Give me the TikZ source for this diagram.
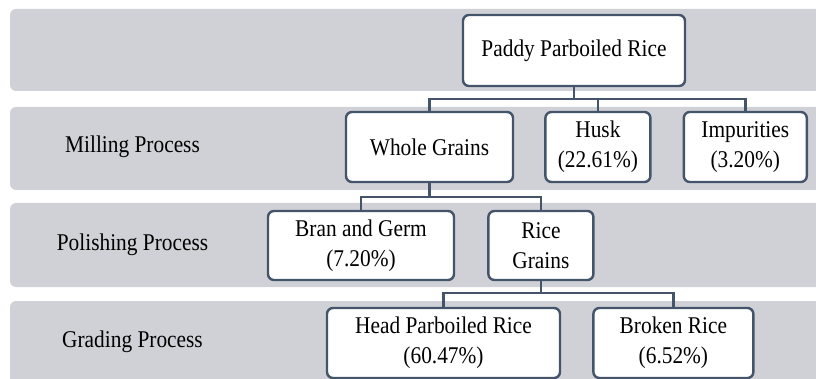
\documentclass[tikz,border=0pt]{standalone}
\usepackage{fontspec}
\setmainfont[FakeStretch=0.89]{Liberation Serif}
\usepackage{tikz}
\usetikzlibrary{positioning,calc}
\definecolor{bandgray}{RGB}{208,209,214}
\definecolor{slate}{RGB}{68,84,106}

\begin{document}
\begin{tikzpicture}[x=1pt,y=1pt,
    band/.style={fill=bandgray,draw=none,rounded corners=6pt},
    statt/.style={fill=white,draw=slate,line width=2.4pt,rectangle,rounded corners=6pt,inner sep=0pt,
                  align=center,font=\fontsize{24}{30}\selectfont,minimum height=70pt},
    stage/.style={font=\fontsize{24}{30}\selectfont},
    link/.style={draw=slate,line width=2.4pt}]
%
   \useasboundingbox (0,0) rectangle (816,-379);
   \clip (0,0) rectangle (816,-379);
   \fill[band] (816,-9) -| (10,-91) -- (816,-91);
   \fill[band] (816,-107) -| (10,-190) -- (816,-190);
   \fill[band] (816,-203) -| (10,-287) -- (816,-287);
   \fill[band] (816,-301) -| (10,-395) -- (816,-395);
   \node[stage]         (L1) at (132.5,-147) {Milling Process};
   \node[stage]         (L2) at (132.5,-245) {Polishing Process};
   \node[stage]         (L3) at (132.5,-342) {Grading Process};
   \node[statt,minimum width=222pt,minimum height=71pt] (N1) at (574,-50.5) {Paddy Parboiled Rice};
   \node[statt,minimum width=167pt] (N2) at (429.5,-147) {Whole Grains};
   \node[statt,minimum width=105pt] (N3) [right=30pt of N2] {Husk\\(22.61\%)};
   \node[statt,minimum width=123pt] (N4) [right=31pt of N3] {Impurities\\(3.20\%)};
   \node[statt,minimum width=186pt,minimum height=69pt] (N5) at (361,-245.5) {Bran and Germ\\(7.20\%)};
   \node[statt,minimum width=105pt,minimum height=69pt] (N6) [right=32pt of N5] {Rice\\Grains};
   \node[statt,minimum width=233pt] (N7) at (443.5,-343) {Head Parboiled Rice\\(60.47\%)};
   \node[statt,minimum width=160pt] (N8) [right=31pt of N7] {Broken Rice\\(6.52\%)};
   \coordinate (B1) at (0,-99);
   \coordinate (B2) at (0,-197);
   \coordinate (B3) at (0,-293);
   \draw[link] (N1.south) -- (N1.south |- B1);
   \draw[link] (N2.north) |- (B1 -| N4.north) -- (N4.north);
   \draw[link] (N3.north) -- (N3.north |- B1);
   \draw[link] (N2.south) -- (N2.south |- B2);
   \draw[link] (N5.north) |- (B2 -| N6.north) -- (N6.north);
   \draw[link] (N6.south) -- (N6.south |- B3);
   \draw[link] (N7.north) |- (B3 -| N8.north) -- (N8.north);
\end{tikzpicture}
\end{document}
